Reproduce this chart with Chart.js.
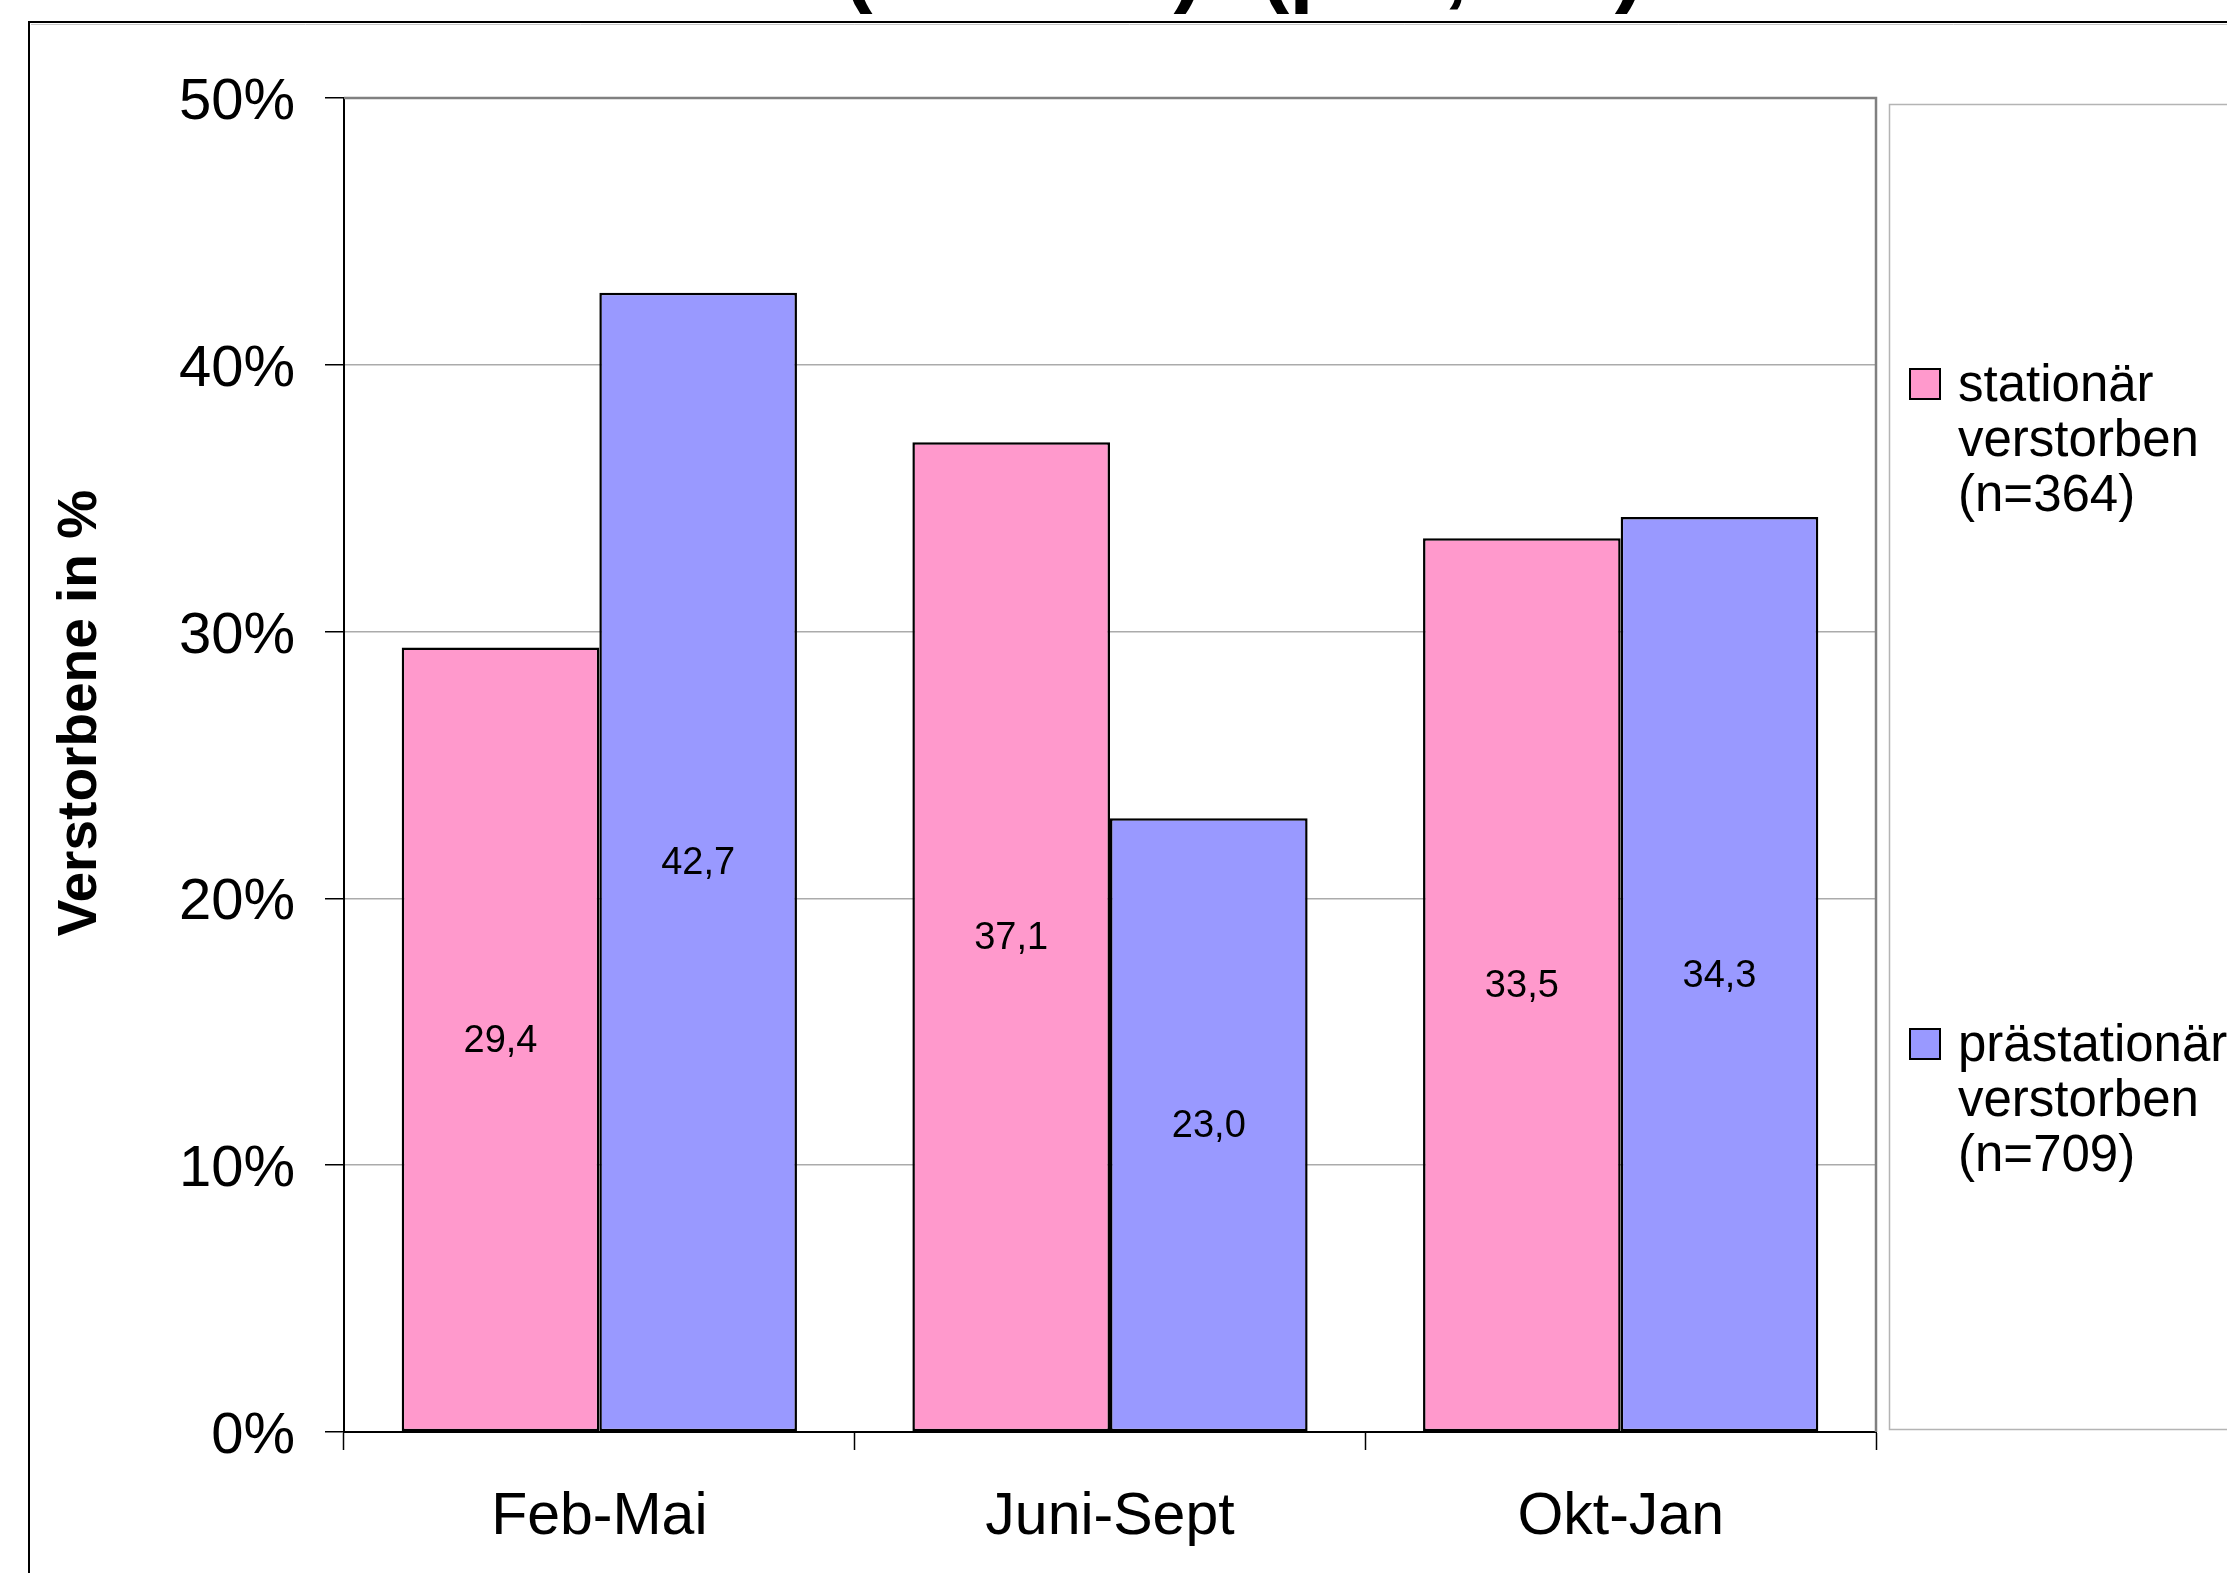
<!DOCTYPE html>
<html>
<head>
<meta charset="utf-8">
<script src="https://cdn.jsdelivr.net/npm/chart.js@4.4.1/dist/chart.umd.min.js"></script>
<style>
  html, body { margin: 0; padding: 0; background: #ffffff; }
  canvas { display: block; }
</style>
</head>
<body>
<canvas id="c" width="2227" height="1573"></canvas>
<script>
// ---- data ----
const categories = ['Feb-Mai', 'Juni-Sept', 'Okt-Jan'];
const stationaer = [29.4, 37.1, 33.5];
const praestationaer = [42.7, 23.0, 34.3];
const yTickValues = [0, 10, 20, 30, 40, 50];
const seriesLabelLines = [
  ['stationär', 'verstorben', '(n=364)'],
  ['prästationär', 'verstorben', '(n=709)']
];
const seriesColors = ['#FF99CC', '#9999FF'];
const yAxisTitle = 'Verstorbene in %';
const titleParts = ['(n=1073)', '(p=0,001)'];

const FONT = '"Liberation Sans", Arial, sans-serif';

// ---- plugins ----
const framePlugin = {
  id: 'frame',
  beforeDraw(chart) {
    const ctx = chart.ctx;
    ctx.save();
    ctx.fillStyle = '#ffffff';
    ctx.fillRect(0, 0, chart.width, chart.height);
    // cut-off title (only the descenders are visible in the picture)
    ctx.fillStyle = '#000';
    ctx.font = 'bold 88px ' + FONT;
    ctx.textAlign = 'center';
    ctx.textBaseline = 'alphabetic';
    ctx.fillText(titleParts[0], 1023, -4);
    ctx.fillText(titleParts[1], 1452, -4);
    // outer chart frame
    ctx.strokeStyle = '#000';
    ctx.lineWidth = 2;
    ctx.beginPath();
    ctx.moveTo(29, chart.height + 5);
    ctx.lineTo(29, 22);
    ctx.lineTo(chart.width + 5, 22);
    ctx.stroke();
    ctx.strokeStyle = '#c8c8c8';
    ctx.lineWidth = 1;
    ctx.beginPath();
    ctx.moveTo(31, 24.5);
    ctx.lineTo(chart.width + 5, 24.5);
    ctx.stroke();
    ctx.restore();
  },
  beforeDatasetsDraw(chart) {
    const ctx = chart.ctx;
    const a = chart.chartArea;
    ctx.save();
    ctx.strokeStyle = '#808080';
    ctx.lineWidth = 2.5;
    ctx.beginPath();
    ctx.moveTo(a.left, a.top);
    ctx.lineTo(a.right, a.top);
    ctx.lineTo(a.right, a.bottom);
    ctx.stroke();
    ctx.restore();
  },
  afterDraw(chart) {
    const ctx = chart.ctx;
    ctx.save();
    // y axis title
    ctx.fillStyle = '#000';
    ctx.font = 'bold 55px ' + FONT;
    ctx.translate(96, 713);
    ctx.rotate(-Math.PI / 2);
    ctx.textAlign = 'center';
    ctx.textBaseline = 'alphabetic';
    ctx.fillText(yAxisTitle, 0, 0);
    ctx.restore();

    // data labels, positioned from the bar elements
    ctx.save();
    ctx.fillStyle = '#000';
    ctx.font = '38px ' + FONT;
    ctx.textAlign = 'center';
    ctx.textBaseline = 'middle';
    chart.data.datasets.forEach((ds, di) => {
      const meta = chart.getDatasetMeta(di);
      meta.data.forEach((bar, i) => {
        const txt = ds.data[i].toFixed(1).replace('.', ',');
        ctx.fillText(txt, bar.x, (bar.y + bar.base) / 2 + 2);
      });
    });
    ctx.restore();

    // legend
    ctx.save();
    ctx.strokeStyle = '#b4b4b4';
    ctx.lineWidth = 1.5;
    ctx.beginPath();
    ctx.moveTo(chart.width + 5, 104.5);
    ctx.lineTo(1889.5, 104.5);
    ctx.lineTo(1889.5, 1429.5);
    ctx.lineTo(chart.width + 5, 1429.5);
    ctx.stroke();
    const itemTops = [369, 1029];
    ctx.font = '51px ' + FONT;
    ctx.textAlign = 'left';
    ctx.textBaseline = 'alphabetic';
    chart.data.datasets.forEach((ds, di) => {
      const top = itemTops[di];
      ctx.fillStyle = ds.backgroundColor;
      ctx.fillRect(1910, top, 30, 30);
      ctx.strokeStyle = '#000';
      ctx.lineWidth = 2;
      ctx.strokeRect(1910, top, 30, 30);
      ctx.fillStyle = '#000';
      seriesLabelLines[di].forEach((line, li) => {
        ctx.fillText(line, 1958, top + 32 + li * 55);
      });
    });
    ctx.restore();
  }
};

const chart = new Chart(document.getElementById('c'), {
  type: 'bar',
  data: {
    labels: categories,
    datasets: [
      {
        label: seriesLabelLines[0].join(' '),
        data: stationaer,
        backgroundColor: seriesColors[0],
        borderColor: '#000',
        borderWidth: 2.5,
        borderSkipped: false,
        categoryPercentage: 0.774,
        barPercentage: 1.0
      },
      {
        label: seriesLabelLines[1].join(' '),
        data: praestationaer,
        backgroundColor: seriesColors[1],
        borderColor: '#000',
        borderWidth: 2.5,
        borderSkipped: false,
        categoryPercentage: 0.774,
        barPercentage: 1.0
      }
    ]
  },
  options: {
    responsive: false,
    animation: false,
    devicePixelRatio: 1,
    layout: { padding: { top: 98, right: 351, left: 0, bottom: 0 } },
    plugins: {
      legend: { display: false },
      title: { display: false },
      tooltip: { enabled: false }
    },
    scales: {
      x: {
        offset: true,
        grid: {
          offset: true,
          drawOnChartArea: false,
          drawTicks: true,
          tickLength: 18,
          tickColor: '#000',
          tickWidth: 1.5
        },
        border: { color: '#000', width: 2 },
        ticks: {
          color: '#000',
          font: { family: FONT, size: 59 },
          padding: 32
        },
        afterFit(scale) { scale.height = 141; }
      },
      y: {
        min: 0,
        max: 50,
        afterBuildTicks(scale) {
          scale.ticks = yTickValues.map(v => ({ value: v }));
        },
        grid: {
          color: (ctx) => (ctx.tick && ctx.tick.value === 50) ? 'rgba(0,0,0,0)' : '#ababab',
          lineWidth: 1.5,
          drawTicks: true,
          tickLength: 19,
          tickColor: '#000',
          tickWidth: 1.5
        },
        border: { color: '#000', width: 2 },
        ticks: {
          color: '#000',
          font: { family: FONT, size: 58 },
          padding: 30,
          labelOffset: 5,
          callback: (v) => v + '%'
        },
        afterFit(scale) { scale.width = 344; }
      }
    }
  },
  plugins: [framePlugin]
});
</script>
</body>
</html>
